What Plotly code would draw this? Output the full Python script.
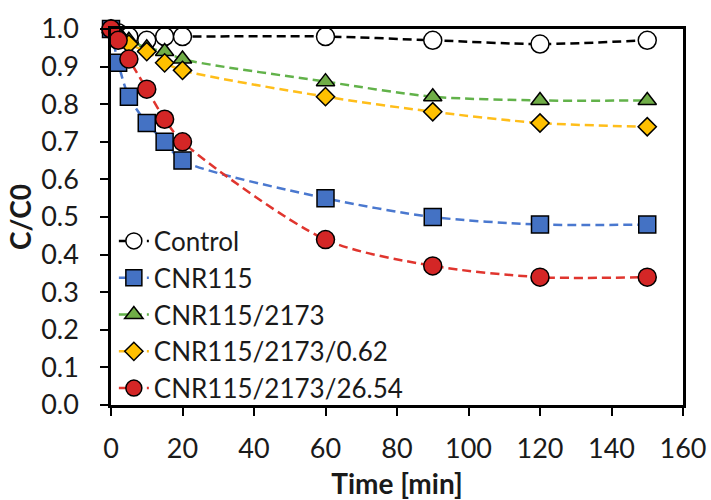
import plotly.graph_objects as go

# Sampling times [min]
time_min = [0, 2, 5, 10, 15, 20, 60, 90, 120, 150]

# Relative concentration C/C0 for each sample
control = [1.00, 0.99, 0.98, 0.97, 0.98, 0.98, 0.98, 0.97, 0.96, 0.97]
cnr115 = [1.00, 0.91, 0.82, 0.75, 0.70, 0.65, 0.55, 0.50, 0.48, 0.48]
cnr115_2173 = [1.00, 0.99, 0.97, 0.95, 0.94, 0.92, 0.86, 0.82, 0.81, 0.81]
cnr115_2173_062 = [1.00, 0.98, 0.96, 0.94, 0.91, 0.89, 0.82, 0.78, 0.75, 0.74]
cnr115_2173_2654 = [1.00, 0.97, 0.92, 0.84, 0.76, 0.70, 0.44, 0.37, 0.34, 0.34]

x_ticks = [0, 20, 40, 60, 80, 100, 120, 140, 160]
y_ticks = [0.0, 0.1, 0.2, 0.3, 0.4, 0.5, 0.6, 0.7, 0.8, 0.9, 1.0]

FONT = "Lato"
TEXT = "#1a1a1a"

series = [
    ("Control", control, "circle", 18, "white", "black"),
    ("CNR115", cnr115, "square", 17, "#4472C4", "#4A78CF"),
    ("CNR115/2173", cnr115_2173, "triangle-up", 16, "#70AD47", "#62B24A"),
    ("CNR115/2173/0.62", cnr115_2173_062, "diamond", 14, "#FFC000", "#FFBE1A"),
    ("CNR115/2173/26.54", cnr115_2173_2654, "circle", 18, "#D42626", "#E0352E"),
]

fig = go.Figure()
for name, vals, sym, size, fill, line_col in series:
    fig.add_trace(go.Scatter(
        x=time_min, y=vals, name=name, mode="lines+markers",
        line=dict(color=line_col, width=2.5, dash="9px,5px", shape="spline", smoothing=0.8),
        marker=dict(symbol=sym, size=size, color=fill, line=dict(color="black", width=1.5)),
        cliponaxis=False,
    ))

fig.update_layout(
    width=711, height=500,
    margin=dict(l=111, r=28, t=29, b=95),
    paper_bgcolor="white", plot_bgcolor="white",
    font=dict(family=FONT, size=27, color=TEXT),
    showlegend=True,
    legend=dict(
        x=0.005, y=-0.02, xanchor="left", yanchor="bottom",
        bgcolor="rgba(0,0,0,0)", font=dict(family=FONT, size=26, color=TEXT),
        tracegroupgap=0, itemwidth=30,
    ),
)
fig.update_xaxes(
    range=[0, 160], tickvals=x_ticks, ticktext=[str(v) for v in x_ticks],
    showgrid=False, zeroline=False, automargin=False,
    showline=True, linecolor="black", linewidth=2.5, mirror=True,
    ticks="outside", ticklen=8, tickwidth=2, tickcolor="black",
    tickfont=dict(family=FONT, size=27), ticklabelstandoff=10,
    title=dict(text="<b>Time [min]</b>", font=dict(family=FONT, size=28), standoff=12),
)
fig.update_yaxes(
    range=[0, 1.0], tickvals=y_ticks, ticktext=[f"{v:.1f}" for v in y_ticks],
    showgrid=False, zeroline=False, automargin=False,
    showline=True, linecolor="black", linewidth=2.5, mirror=True,
    ticks="outside", ticklen=8, tickwidth=2, tickcolor="black",
    tickfont=dict(family=FONT, size=27), ticklabelstandoff=16,
    title=dict(text="<b>C/C0</b>", font=dict(family=FONT, size=28), standoff=2),
)

fig.write_html("out.html")
